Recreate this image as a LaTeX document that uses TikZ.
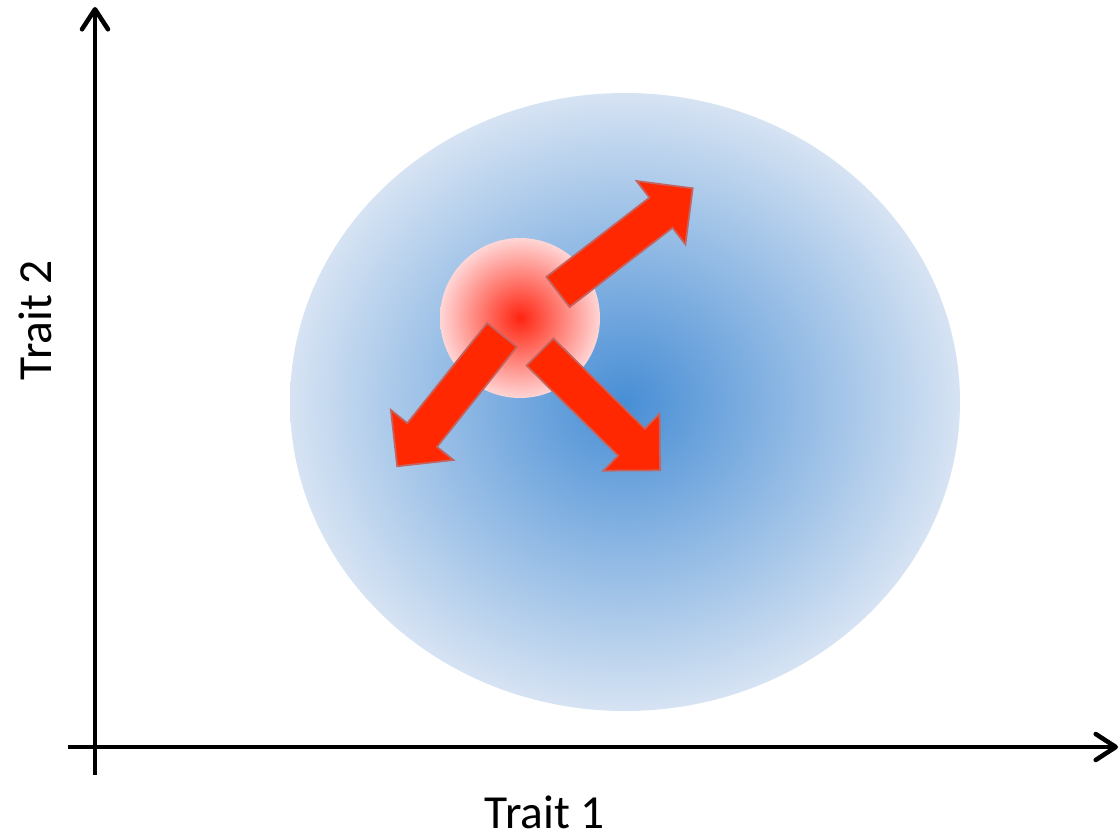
\documentclass[tikz,border=0pt]{standalone}
\usepackage{fontspec}
\setmainfont{Carlito}
\usepackage{tikz}
\usetikzlibrary{arrows.meta,shapes.geometric}

\definecolor{popcore}{RGB}{72,142,213}
\definecolor{popedge}{RGB}{214,227,243}
\definecolor{genocore}{RGB}{255,36,16}
\definecolor{genoedge}{RGB}{255,214,214}
\definecolor{mutfill}{RGB}{255,40,0}
\definecolor{mutline}{RGB}{196,100,96}
\pgfdeclareradialshading{popshade}{\pgfpoint{0bp}{0bp}}{color(0bp)=(popcore); color(25bp)=(popedge); color(50bp)=(popedge)}
\pgfdeclareradialshading{genoshade}{\pgfpoint{0bp}{0bp}}{color(0bp)=(genocore); color(25bp)=(genoedge); color(50bp)=(genoedge)}

\begin{document}
\begin{tikzpicture}[font=\fontsize{13.5}{16}\selectfont,
  axis/.style={line width=1.3pt,-{Straight Barb[length=2mm,width=2.6mm,round]}},
  blob/.style={inner sep=0pt,shading=#1},
  axislabel/.style={inner sep=0pt},
  mutarrow/.style={fill=mutfill,draw=mutline,line width=0.5pt}]
\useasboundingbox (0,0) rectangle (11.2,8.39);
% axes
\coordinate (xstart) at (0.68,0.92);
\coordinate (xend) at (11.18,0.92);
\coordinate (ystart) at (0.95,0.64);
\coordinate (yend) at (0.95,8.32);
\draw[axis] (xstart) -- (xend);
\draw[axis] (ystart) -- (yend);
\node[axislabel] (t1) at (5.45,0.27) {Trait 1};
\node[axislabel,rotate=90] (t2) at (0.35,5.19) {Trait 2};
% population cloud and genotype
\node[blob=popshade,ellipse,minimum width=6.70cm,minimum height=6.18cm] (pop) at (6.25,4.37) {};
\node[blob=genoshade,circle,minimum size=1.60cm] (geno) at (5.20,5.21) {};
% mutation arrows: tail x/y, angle, length
\foreach \tx/\ty/\ang/\len in {5.58/5.47/37.6/1.70, 5.02/5.04/231.4/1.68, 5.40/4.87/-44.6/1.685}
  \draw[mutarrow,shift={(\tx,\ty)},rotate=\ang] (0,-0.19) -- (\len-0.40,-0.19) -- (\len-0.40,-0.40)
    -- (\len,0) -- (\len-0.40,0.40) -- (\len-0.40,0.19) -- (0,0.19) -- cycle;
\end{tikzpicture}
\end{document}
